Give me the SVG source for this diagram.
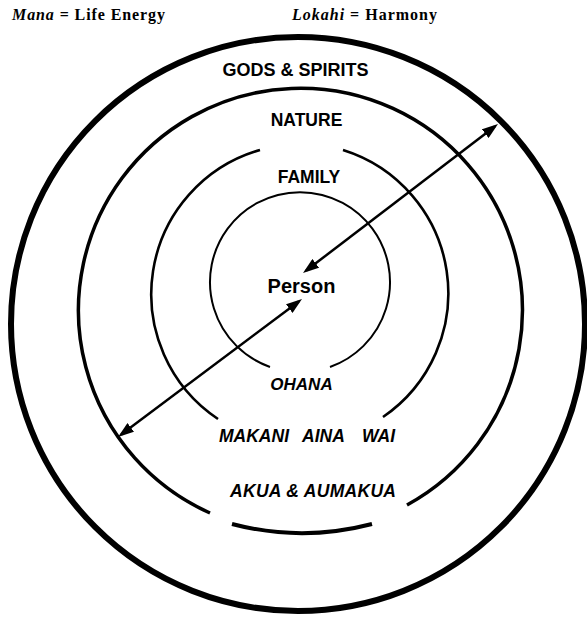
<svg xmlns="http://www.w3.org/2000/svg" width="587" height="617" viewBox="0 0 587 617">
<style>
.ring{fill:none;stroke:#000;}
.ser{font-family:"Liberation Serif","Times New Roman",serif;font-weight:bold;font-size:16px;fill:#000;}
.lab{font-family:"Liberation Sans",Arial,sans-serif;font-weight:bold;fill:#000;text-anchor:middle;}
.it{font-style:italic;}
.st{text-anchor:start;}
.conn{stroke:#000;stroke-width:2.5;fill:none;}
</style>
<defs>
<marker id="ah" markerUnits="userSpaceOnUse" markerWidth="16" markerHeight="11" refX="12" refY="5.5" orient="auto-start-reverse">
<path d="M0,0 L16,5.5 L0,11 z" fill="#000"/>
</marker>
</defs>
<rect width="587" height="617" fill="#fff"/>
<g id="legend">
<text class="ser" x="12" y="20" textLength="153" lengthAdjust="spacing"><tspan font-style="italic">Mana</tspan> = Life Energy</text>
<text class="ser" x="292" y="20" textLength="145" lengthAdjust="spacing"><tspan font-style="italic">Lokahi</tspan> = Harmony</text>
</g>
<g id="gods">
<circle class="ring" cx="298" cy="324" r="287" stroke-width="6"/>
<text class="lab" x="295.5" y="76" font-size="18">GODS &amp; SPIRITS</text>
<text class="lab it" x="313" y="497" font-size="17.5" textLength="166" lengthAdjust="spacing">AKUA &amp; AUMAKUA</text>
</g>
<g id="nature">
<path class="ring" stroke-width="3.5" d="M210,513 A222,222 0 1 1 407,505"/>
<path class="ring" stroke-width="4" d="M232,524 A277,277 0 0 0 372,524"/>
<text class="lab" x="306.5" y="126" font-size="17.5">NATURE</text>
<text class="lab it st" y="442" font-size="17.5"><tspan x="219">MAKANI</tspan><tspan x="302">AINA</tspan><tspan x="362">WAI</tspan></text>
</g>
<g id="family">
<path class="ring" stroke-width="2.6" d="M260,150 A150,150 0 0 0 218,419"/>
<path class="ring" stroke-width="2.6" d="M343,150 A150,150 0 0 1 383,417"/>
<text class="lab" x="309" y="183" font-size="17.5">FAMILY</text>
<text class="lab it" x="301.5" y="390" font-size="17">OHANA</text>
</g>
<g id="person">
<path class="ring" stroke-width="2" d="M270,367 A90,90 0 1 1 330,367"/>
<text class="lab" x="301.5" y="293" font-size="20">Person</text>
</g>
<g id="connectors">
<line class="conn" x1="494.8" y1="126.4" x2="306.2" y2="270.6" marker-start="url(#ah)" marker-end="url(#ah)"/>
<line class="conn" x1="298.8" y1="301.4" x2="121.2" y2="434.6" marker-start="url(#ah)" marker-end="url(#ah)"/>
</g>
</svg>
